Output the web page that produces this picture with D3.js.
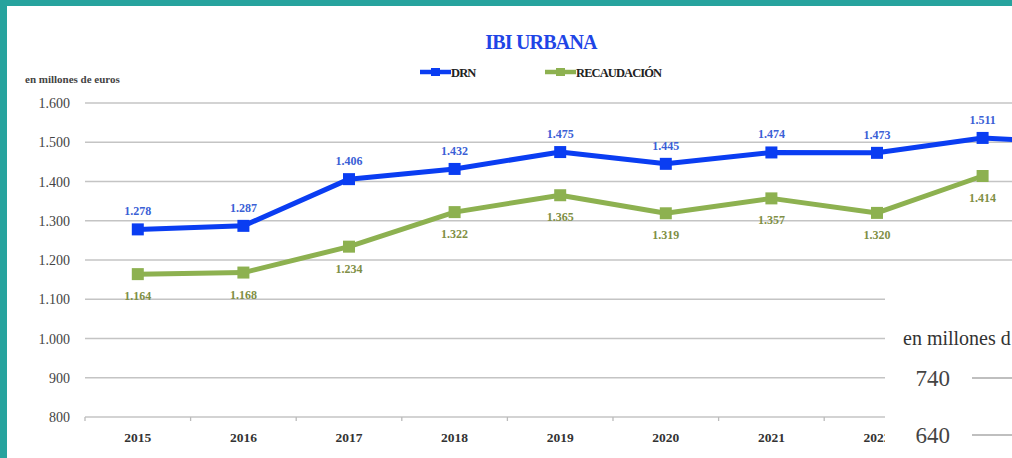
<!DOCTYPE html>
<html>
<head>
<meta charset="utf-8">
<script src="https://cdn.jsdelivr.net/npm/d3@7"></script>
<style>
  html, body { margin: 0; padding: 0; background: #fff; }
  svg { display: block; font-family: "Liberation Serif", "Times New Roman", serif; }
</style>
</head>
<body>
<svg id="chart" width="1012" height="458"></svg>
<script>
// años visibles (el gráfico original sigue a la derecha, recortado)
const years = ['2015', '2016', '2017', '2018', '2019', '2020', '2021', '2022', '2023', '2024'];
const drn = [1278, 1287, 1406, 1432, 1475, 1445, 1474, 1473, 1511, 1497];
const recaudacion = [1164, 1168, 1234, 1322, 1365, 1319, 1357, 1320, 1414];
const yTicks = [800, 900, 1000, 1100, 1200, 1300, 1400, 1500, 1600];
// segundo gráfico superpuesto abajo a la derecha
const overlayTicks = [740, 640];

const W = 1012, H = 458;
const svg = d3.select('#chart');
const fmt = (v) => d3.format(',')(v).replace(/,/g, '.');

const x = d3.scaleBand().domain(years).range([85, 85 + years.length * 105.6]);
const y = d3.scaleLinear().domain([800, 1600]).range([417, 103]);
const cx = (d, i) => x(years[i]) + x.bandwidth() / 2;

svg.append('rect').attr('width', W).attr('height', H).attr('fill', '#fff');

// rejilla
svg.append('g')
  .selectAll('line')
  .data(yTicks)
  .join('line')
  .attr('x1', 85).attr('x2', W)
  .attr('y1', (d) => y(d)).attr('y2', (d) => y(d))
  .attr('stroke', '#c4c4c4').attr('stroke-width', 1.3);

// eje Y
svg.append('g')
  .selectAll('text')
  .data(yTicks)
  .join('text')
  .attr('x', 70).attr('y', (d) => y(d) + 5)
  .attr('text-anchor', 'end')
  .attr('font-size', 14).attr('fill', '#444')
  .text(fmt);

// eje X (las etiquetas fuera de la vista no se dibujan)
const xAxis = svg.append('g').attr('transform', `translate(0,${y(800)})`);
xAxis.selectAll('line.tick')
  .data(years)
  .join('line')
  .attr('class', 'tick')
  .attr('x1', (d) => x(d)).attr('x2', (d) => x(d))
  .attr('y1', 0).attr('y2', 4)
  .attr('stroke', '#bbb').attr('stroke-width', 1.3);
xAxis.selectAll('text')
  .data(years.filter((d) => x(d) + x.bandwidth() / 2 < 900))
  .join('text')
  .attr('x', (d) => x(d) + x.bandwidth() / 2)
  .attr('y', 25)
  .attr('text-anchor', 'middle')
  .attr('font-size', 13.5).attr('font-weight', 'bold').attr('fill', '#333')
  .text((d) => d);

const line = d3.line().x(cx).y((d) => y(d));

function drawSeries(values, color, labelColor, above) {
  svg.append('path')
    .datum(values)
    .attr('d', line)
    .attr('fill', 'none')
    .attr('stroke', color).attr('stroke-width', 5)
    .attr('stroke-linejoin', 'round');
  svg.append('g')
    .selectAll('rect')
    .data(values)
    .join('rect')
    .attr('x', (d, i) => cx(d, i) - 6).attr('y', (d) => y(d) - 6)
    .attr('width', 12).attr('height', 12)
    .attr('fill', color);
  svg.append('g')
    .selectAll('text')
    .data(values.map((v, i) => ({ v, px: cx(v, i) })).filter((d) => d.px < W - 20))
    .join('text')
    .attr('x', (d) => d.px)
    .attr('y', (d) => y(d.v) + (above ? -14 : 26))
    .attr('text-anchor', 'middle')
    .attr('font-size', 12).attr('font-weight', 'bold')
    .attr('fill', labelColor)
    .text((d) => fmt(d.v));
}

drawSeries(recaudacion, '#8db150', '#7f8f45', false);
drawSeries(drn, '#0a3df2', '#3b5fd6', true);

// título y leyenda
svg.append('text')
  .attr('x', 541).attr('y', 49)
  .attr('text-anchor', 'middle')
  .attr('font-size', 20).attr('font-weight', 'bold')
  .attr('letter-spacing', -0.8)
  .attr('fill', '#1f45e6')
  .text('IBI URBANA');

svg.append('text')
  .attr('x', 25).attr('y', 83)
  .attr('font-size', 11).attr('font-weight', 'bold').attr('fill', '#444')
  .text('en millones de euros');

const legend = [
  { name: 'DRN', color: '#0a3df2', x: 420 },
  { name: 'RECAUDACIÓN', color: '#8db150', x: 545 }
];
const lg = svg.append('g').selectAll('g').data(legend).join('g')
  .attr('transform', (d) => `translate(${d.x},72)`);
lg.append('line').attr('x1', 0).attr('x2', 31).attr('stroke', (d) => d.color).attr('stroke-width', 4.5);
lg.append('rect').attr('x', 11).attr('y', -4).attr('width', 9).attr('height', 8).attr('fill', (d) => d.color);
lg.append('text')
  .attr('x', 31).attr('y', 5)
  .attr('font-size', 12.5).attr('font-weight', 'bold')
  .attr('letter-spacing', -0.9)
  .attr('fill', '#222')
  .text((d) => d.name);

// recuadro del gráfico superpuesto (recortado por el borde, como en el original)
const ov = svg.append('g');
ov.append('rect').attr('x', 885).attr('y', 284).attr('width', W - 885).attr('height', H - 284).attr('fill', '#fff');
ov.append('text')
  .attr('x', 903).attr('y', 345)
  .attr('font-size', 20).attr('fill', '#333')
  .text('en millones d');
const oy = d3.scaleLinear().domain([640, 740]).range([435, 378]);
ov.selectAll('line.ov')
  .data(overlayTicks)
  .join('line')
  .attr('class', 'ov')
  .attr('x1', 972).attr('x2', W)
  .attr('y1', (d) => oy(d)).attr('y2', (d) => oy(d))
  .attr('stroke', '#aaa').attr('stroke-width', 1.3);
ov.selectAll('text.ovt')
  .data(overlayTicks)
  .join('text')
  .attr('class', 'ovt')
  .attr('x', 950).attr('y', (d) => oy(d) + 8)
  .attr('text-anchor', 'end')
  .attr('font-size', 23).attr('fill', '#444')
  .text((d) => d);

// marco turquesa
svg.append('rect').attr('x', 0).attr('y', 0).attr('width', W).attr('height', 6).attr('fill', '#27a39e');
svg.append('rect').attr('x', 0).attr('y', 0).attr('width', 7).attr('height', H).attr('fill', '#27a39e');
</script>
</body>
</html>
